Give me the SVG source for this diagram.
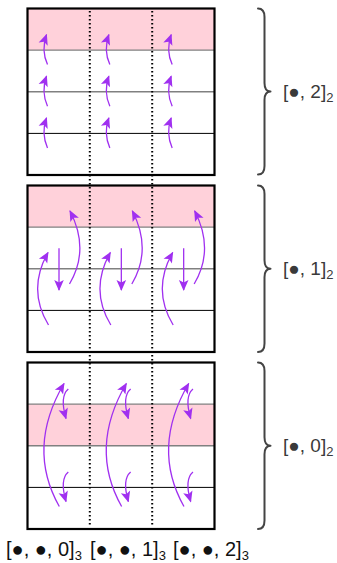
<svg xmlns="http://www.w3.org/2000/svg" width="337" height="563" viewBox="0 0 337 563">
<style>
.box{fill:none;stroke:#000;stroke-width:2.2}
.pink{fill:#FFD1DA;stroke:none}
.gl{stroke:#808080;stroke-width:1.4}
.bl{stroke:#000;stroke-width:1}
.dot{stroke:#000;stroke-width:2;stroke-dasharray:1.6 2.4}
.arr{fill:none;stroke:#A030F0;stroke-width:1.3;marker-end:url(#ah)}
.brace{fill:none;stroke:#444;stroke-width:2;stroke-linecap:round;stroke-linejoin:round}
.lbl{font-family:"Liberation Sans",Arial,sans-serif;font-size:19px;fill:#3a3a3a}
.blbl{font-family:"Liberation Sans",Arial,sans-serif;font-size:20px;fill:#111}
.sub{font-size:13px}
</style>
<defs>
<marker id="ah" viewBox="-11 -5.5 12 11" refX="0" refY="0" markerWidth="12" markerHeight="11" markerUnits="userSpaceOnUse" orient="auto">
<path d="M1,0 L-10,-4.8 L-7.5,0 L-10,4.8 Z" fill="#A030F0"/>
</marker>
</defs>

<g id="block2" transform="translate(0,8.5)">
<rect class="pink" x="27.5" y="0" width="187" height="41.6"/>
<line class="gl" x1="27.5" y1="41.6" x2="214.5" y2="41.6"/>
<line class="gl" x1="27.5" y1="83.25" x2="214.5" y2="83.25"/>
<line class="bl" x1="27.5" y1="124.9" x2="214.5" y2="124.9"/>
<rect class="box" x="27.5" y="0" width="187" height="166.5"/>
</g>
<g id="block1" transform="translate(0,185.5)">
<rect class="pink" x="27.5" y="0" width="187" height="41.6"/>
<line class="gl" x1="27.5" y1="41.6" x2="214.5" y2="41.6"/>
<line class="gl" x1="27.5" y1="83.25" x2="214.5" y2="83.25"/>
<line class="bl" x1="27.5" y1="124.9" x2="214.5" y2="124.9"/>
<rect class="box" x="27.5" y="0" width="187" height="166.5"/>
</g>
<g id="block0" transform="translate(0,362.5)">
<rect class="pink" x="27.5" y="41.6" width="187" height="41.65"/>
<line class="gl" x1="27.5" y1="41.6" x2="214.5" y2="41.6"/>
<line class="gl" x1="27.5" y1="83.25" x2="214.5" y2="83.25"/>
<line class="bl" x1="27.5" y1="124.9" x2="214.5" y2="124.9"/>
<rect class="box" x="27.5" y="0" width="187" height="166.5"/>
</g>

<g id="dividers">
<line class="dot" x1="89.8" y1="11" x2="89.8" y2="527"/>
<line class="dot" x1="152.2" y1="11" x2="152.2" y2="527"/>
</g>

<g id="connectors">
<g transform="translate(0,8.5)">
<g id="c2a"><path class="arr" d="M47.5 56.1 Q41 41.6 46.5 26.1"/><path class="arr" d="M47.5 97.75 Q41 83.25 46.5 67.75"/><path class="arr" d="M47.5 139.4 Q41 124.9 46.5 109.4"/></g>
<use href="#c2a" transform="translate(62.33,0)"/>
<use href="#c2a" transform="translate(124.67,0)"/>
</g>
<g transform="translate(0,185.5)">
<g id="c1a"><path class="arr" d="M48.5 139.5 Q27 104 48 67"/><path class="arr" d="M59 62.8 L59 104.5"/><path class="arr" d="M69.5 98.5 Q90 64 70 25.5"/></g>
<use href="#c1a" transform="translate(62.33,0)"/>
<use href="#c1a" transform="translate(124.67,0)"/>
</g>
<g transform="translate(0,362.5)">
<g id="c0a"><path class="arr" d="M59.3 144 Q26.3 85.5 64 21"/><path class="arr" d="M68.3 26.5 Q59.5 34 66 56"/><path class="arr" d="M68.3 109.5 Q59.5 117 66 139"/></g>
<use href="#c0a" transform="translate(62.33,0)"/>
<use href="#c0a" transform="translate(124.67,0)"/>
</g>
</g>

<g id="brace2"><path class="brace" d="M258 8.5 Q264.5 8.5 264.5 17 L264.5 83 Q264.5 91.5 270.5 91.5 Q264.5 91.5 264.5 100 L264.5 166 Q264.5 174.5 258 174.5"/>
<text class="lbl" x="283" y="98">[●, 2]<tspan class="sub" dy="4">2</tspan></text></g>
<g id="brace1"><path class="brace" d="M258 185.5 Q264.5 185.5 264.5 194 L264.5 260.3 Q264.5 268.8 270.5 268.8 Q264.5 268.8 264.5 277.3 L264.5 343.5 Q264.5 352 258 352"/>
<text class="lbl" x="283" y="275">[●, 1]<tspan class="sub" dy="4">2</tspan></text></g>
<g id="brace0"><path class="brace" d="M258 362.5 Q264.5 362.5 264.5 371 L264.5 437.3 Q264.5 445.8 270.5 445.8 Q264.5 445.8 264.5 454.3 L264.5 520.5 Q264.5 529 258 529"/>
<text class="lbl" x="283" y="452">[●, 0]<tspan class="sub" dy="4">2</tspan></text></g>

<g id="labels">
<text class="blbl" x="6" y="556">[●, ●, 0]<tspan class="sub" dy="4">3</tspan></text>
<text class="blbl" x="90" y="556">[●, ●, 1]<tspan class="sub" dy="4">3</tspan></text>
<text class="blbl" x="173" y="556">[●, ●, 2]<tspan class="sub" dy="4">3</tspan></text>
</g>
</svg>
